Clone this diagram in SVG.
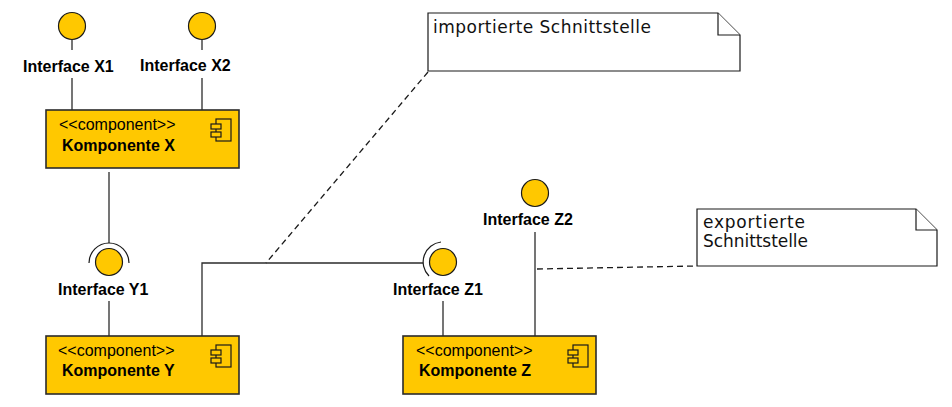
<svg xmlns="http://www.w3.org/2000/svg" width="952" height="407" viewBox="0 0 952 407">
<defs>
<style>
.comp{fill:#ffc800;stroke:#2b2b2b;stroke-width:1.6}
.icon{fill:#ffc800;stroke:#1a1a1a;stroke-width:1.2}
.ball{fill:#ffc800;stroke:#1a1a1a;stroke-width:1.2}
.sock{fill:none;stroke:#1a1a1a;stroke-width:1.2}
.ln{fill:none;stroke:#2b2b2b;stroke-width:1.3}
.dash{fill:none;stroke:#1a1a1a;stroke-width:1.3;stroke-dasharray:6 4}
.note{fill:#fff;stroke:#1a1a1a;stroke-width:1.2;stroke-linejoin:miter}
.ster{font-family:"Liberation Sans",Arial,sans-serif;font-size:16px;fill:#000}
.name{font-family:"Liberation Sans",Arial,sans-serif;font-size:16px;font-weight:bold;fill:#000}
.lbl{font-family:"Liberation Sans",Arial,sans-serif;font-size:16px;font-weight:bold;fill:#000}
.nt{font-family:"DejaVu Sans",sans-serif;font-size:17px;fill:#111}
</style>
<g id="cicon">
<rect class="icon" x="5" y="0" width="15" height="22"/>
<rect class="icon" x="0" y="5" width="10" height="5"/>
<rect class="icon" x="0" y="13" width="10" height="5"/>
</g>
</defs>
<rect width="952" height="407" fill="#fff"/>

<g id="connectors">
<line class="ln" x1="72" y1="40" x2="72" y2="50"/>
<line class="ln" x1="72" y1="78" x2="72" y2="110"/>
<line class="ln" x1="202" y1="40" x2="202" y2="50"/>
<line class="ln" x1="202" y1="78" x2="202" y2="110"/>
<line class="ln" x1="109" y1="172" x2="109" y2="243"/>
<line class="ln" x1="109" y1="301" x2="109" y2="336"/>
<polyline class="ln" points="202,336 202,263 423,263"/>
<line class="ln" x1="443" y1="301" x2="443" y2="336"/>
<line class="ln" x1="535" y1="232" x2="535" y2="336"/>
<line class="dash" x1="428" y1="72" x2="266" y2="263"/>
<line class="dash" x1="537" y1="269" x2="697" y2="266"/>
</g>

<g id="if-x1">
<circle class="ball" cx="72" cy="26" r="13.5"/>
<text class="lbl" x="23" y="72">Interface X1</text>
</g>
<g id="if-x2">
<circle class="ball" cx="202" cy="26" r="13.5"/>
<text class="lbl" x="140" y="71">Interface X2</text>
</g>

<g id="comp-x">
<rect class="comp" x="46" y="110" width="193" height="58"/>
<text class="ster" x="59" y="130">&lt;&lt;component&gt;&gt;</text>
<text class="name" x="62" y="151">Komponente X</text>
<use href="#cicon" x="211" y="119"/>
</g>

<g id="if-y1">
<path class="sock" d="M89,263 A20,20 0 0 1 129,263"/>
<circle class="ball" cx="109" cy="262" r="13.5"/>
<text class="lbl" x="58" y="295">Interface Y1</text>
</g>

<g id="comp-y">
<rect class="comp" x="46" y="336" width="193" height="58"/>
<text class="ster" x="58" y="356">&lt;&lt;component&gt;&gt;</text>
<text class="name" x="62" y="376">Komponente Y</text>
<use href="#cicon" x="211" y="345"/>
</g>

<g id="if-z1">
<path class="sock" d="M441,242 A20,20 0 0 0 429,276"/>
<circle class="ball" cx="443" cy="262" r="13.5"/>
<text class="lbl" x="393" y="295">Interface Z1</text>
</g>

<g id="if-z2">
<circle class="ball" cx="535" cy="193" r="13.5"/>
<text class="lbl" x="483" y="225">Interface Z2</text>
</g>

<g id="comp-z">
<rect class="comp" x="403" y="336" width="193" height="58"/>
<text class="ster" x="416" y="356">&lt;&lt;component&gt;&gt;</text>
<text class="name" x="419" y="376">Komponente Z</text>
<use href="#cicon" x="568" y="345"/>
</g>

<g id="note-import">
<path class="note" d="M428,13 H718 L740,35 V71 H428 Z"/>
<path class="note" d="M718,13 V35 H740"/>
<text class="nt" x="433" y="33" textLength="218" lengthAdjust="spacing">importierte Schnittstelle</text>
</g>

<g id="note-export">
<path class="note" d="M697,209 H916 L937,230 V266 H697 Z"/>
<path class="note" d="M916,209 V230 H937"/>
<text class="nt" x="703" y="228" textLength="102" lengthAdjust="spacing">exportierte</text>
<text class="nt" x="703" y="247" textLength="105" lengthAdjust="spacing">Schnittstelle</text>
</g>
</svg>
